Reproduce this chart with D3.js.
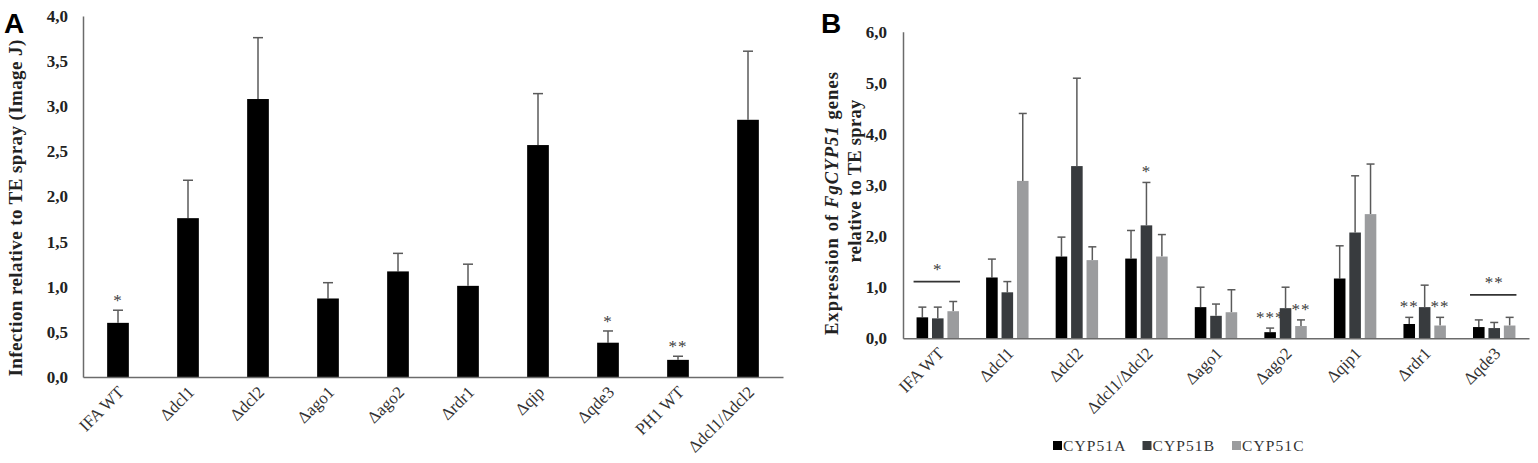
<!DOCTYPE html>
<html>
<head>
<meta charset="utf-8">
<script src="https://cdn.jsdelivr.net/npm/d3@7"></script>
<style>
  body { margin: 0; background: #fff; }
  svg { display: block; }
</style>
</head>
<body>
<div class="chart"></div>
<script>
// Panel A data
const catsA = ["IFA WT", "Δdcl1", "Δdcl2", "Δago1", "Δago2", "Δrdr1", "Δqip", "Δqde3", "PH1 WT", "Δdcl1/Δdcl2"];
const meanA = [0.60, 1.76, 3.08, 0.87, 1.17, 1.01, 2.57, 0.38, 0.19, 2.85];
const errA  = [0.14, 0.42, 0.68, 0.175, 0.20, 0.24, 0.57, 0.13, 0.04, 0.76];
const sigA  = ["*", "", "", "", "", "", "", "*", "**", ""];
const ticksA = [0, 0.5, 1, 1.5, 2, 2.5, 3, 3.5, 4];

// Panel B data
const catsB = ["IFA WT", "Δdcl1", "Δdcl2", "Δdcl1/Δdcl2", "Δago1", "Δago2", "Δqip1", "Δrdr1", "Δqde3"];
const seriesB = ["CYP51A", "CYP51B", "CYP51C"];
const cyp51A = [0.41, 1.19, 1.60, 1.56, 0.61, 0.12, 1.17, 0.28, 0.22];
const cyp51B = [0.39, 0.90, 3.37, 2.21, 0.44, 0.59, 2.07, 0.61, 0.20];
const cyp51C = [0.53, 3.08, 1.53, 1.60, 0.51, 0.24, 2.43, 0.25, 0.25];
const errCyp51A = [0.20, 0.36, 0.38, 0.55, 0.39, 0.08, 0.64, 0.13, 0.14];
const errCyp51B = [0.22, 0.21, 1.72, 0.84, 0.23, 0.41, 1.11, 0.43, 0.11];
const errCyp51C = [0.19, 1.32, 0.26, 0.43, 0.44, 0.12, 0.98, 0.16, 0.16];
const ticksB = [0, 1, 2, 3, 4, 5, 6];
const sigB = [
  { cat: "Δdcl1/Δdcl2", series: "CYP51B", label: "*" },
  { cat: "Δago2", series: "CYP51A", label: "***" },
  { cat: "Δago2", series: "CYP51C", label: "**" },
  { cat: "Δrdr1", series: "CYP51A", label: "**" },
  { cat: "Δrdr1", series: "CYP51C", label: "**" }
];
const groupSigB = [
  { cat: "IFA WT", level: 1.11, label: "*" },
  { cat: "Δqde3", level: 0.85, label: "**" }
];

const W = 1538, H = 463;
const serif = "'Liberation Serif', 'Times New Roman', serif";
const sans = "'Liberation Sans', Arial, sans-serif";
const axisColor = "#6b6b6b";
const errColor = "#5a5a5a";
const labelColor = "#333";
const starColor = "#3c3c3c";
const fmt = d => d.toFixed(1).replace(".", ",");

var svg = d3.select(".chart").append("svg")
    .attr("width", W)
    .attr("height", H);

// ---------- Panel A ----------
const xA = d3.scaleBand().domain(catsA).range([83, 783])
    .paddingInner(0.69).paddingOuter(0.345);
const yA = d3.scaleLinear().domain([0, 4]).range([377, 16]);

var gA = svg.append("g");

const dataA = catsA.map((c, i) => ({ cat: c, v: meanA[i], e: errA[i], sig: sigA[i] }));

// error bars (drawn first so bars cover the lower part)
gA.selectAll(".errA")
    .data(dataA)
    .join("g")
    .attr("class", "errA")
    .each(function(d) {
        const g = d3.select(this);
        const cx = xA(d.cat) + xA.bandwidth() / 2;
        g.append("line")
            .attr("x1", cx).attr("x2", cx)
            .attr("y1", yA(d.v)).attr("y2", yA(d.v + d.e))
            .attr("stroke", errColor).attr("stroke-width", 1.5);
        g.append("line")
            .attr("x1", cx - 5).attr("x2", cx + 5)
            .attr("y1", yA(d.v + d.e)).attr("y2", yA(d.v + d.e))
            .attr("stroke", errColor).attr("stroke-width", 1.5);
    });

gA.selectAll("rect")
    .data(dataA)
    .join("rect")
    .attr("x", d => xA(d.cat))
    .attr("y", d => yA(d.v))
    .attr("width", xA.bandwidth())
    .attr("height", d => yA(0) - yA(d.v))
    .attr("fill", "#000");

gA.selectAll(".sigA")
    .data(dataA.filter(d => d.sig))
    .join("text")
    .attr("class", "sigA")
    .attr("x", d => xA(d.cat) + xA.bandwidth() / 2)
    .attr("y", d => yA(d.v + d.e) - 4)
    .attr("text-anchor", "middle")
    .attr("font-family", serif)
    .attr("font-size", 17)
    .attr("letter-spacing", 1)
    .attr("fill", starColor)
    .text(d => d.sig);

// y axis A
var yAxisA = gA.append("g")
    .attr("transform", "translate(83,0)")
    .call(d3.axisLeft(yA).tickValues(ticksA).tickSize(0).tickPadding(15).tickFormat(fmt));
yAxisA.select(".domain").attr("stroke", axisColor).attr("stroke-width", 1.5);
yAxisA.selectAll("text")
    .attr("font-family", serif).attr("font-size", 17).attr("font-weight", "bold").attr("fill", "#222");

// x axis A
var xAxisA = gA.append("g")
    .attr("transform", "translate(0,377)")
    .call(d3.axisBottom(xA).tickSize(0).tickSizeOuter(0));
xAxisA.select(".domain").attr("stroke", axisColor).attr("stroke-width", 1.5);
xAxisA.selectAll("text")
    .attr("font-family", serif).attr("font-size", 17).attr("fill", labelColor)
    .attr("text-anchor", "end")
    .attr("transform", "translate(3,12) rotate(-45)")
    .attr("dy", "0.35em")
    .attr("y", 0);

gA.append("text")
    .attr("transform", "translate(22,208) rotate(-90)")
    .attr("text-anchor", "middle")
    .attr("font-family", serif).attr("font-size", 19).attr("font-weight", "bold").attr("fill", "#222")
    .attr("letter-spacing", 0.4)
    .text("Infection relative to TE spray (Image J)");

svg.append("text")
    .attr("x", 4).attr("y", 33)
    .attr("font-family", sans).attr("font-size", 28).attr("font-weight", "bold")
    .text("A");

// ---------- Panel B ----------
const x0B = d3.scaleBand().domain(catsB).range([903, 1529])
    .paddingInner(0.39).paddingOuter(0.195);
const x1B = d3.scaleBand().domain(seriesB).range([0, x0B.bandwidth()])
    .paddingInner(0.25).paddingOuter(0);
const yB = d3.scaleLinear().domain([0, 6]).range([338.3, 31.7]);
const colorB = d3.scaleOrdinal().domain(seriesB).range(["#000000", "#383b3e", "#9b9c9e"]);

const valuesB = { CYP51A: cyp51A, CYP51B: cyp51B, CYP51C: cyp51C };
const errsB = { CYP51A: errCyp51A, CYP51B: errCyp51B, CYP51C: errCyp51C };

const dataB = [];
catsB.forEach((c, i) => {
    seriesB.forEach(s => {
        dataB.push({ cat: c, series: s, v: valuesB[s][i], e: errsB[s][i] });
    });
});
const barX = d => x0B(d.cat) + x1B(d.series);
const barCx = d => barX(d) + x1B.bandwidth() / 2;

var gB = svg.append("g");

gB.selectAll(".errB")
    .data(dataB)
    .join("g")
    .attr("class", "errB")
    .each(function(d) {
        const g = d3.select(this);
        const cx = barCx(d);
        g.append("line")
            .attr("x1", cx).attr("x2", cx)
            .attr("y1", yB(d.v)).attr("y2", yB(d.v + d.e))
            .attr("stroke", errColor).attr("stroke-width", 1.5);
        g.append("line")
            .attr("x1", cx - 4).attr("x2", cx + 4)
            .attr("y1", yB(d.v + d.e)).attr("y2", yB(d.v + d.e))
            .attr("stroke", errColor).attr("stroke-width", 1.5);
    });

gB.selectAll("rect")
    .data(dataB)
    .join("rect")
    .attr("x", barX)
    .attr("y", d => yB(d.v))
    .attr("width", x1B.bandwidth())
    .attr("height", d => yB(0) - yB(d.v))
    .attr("fill", d => colorB(d.series));

// stars over single bars
gB.selectAll(".sigB")
    .data(sigB)
    .join("text")
    .attr("class", "sigB")
    .attr("x", d => x0B(d.cat) + x1B(d.series) + x1B.bandwidth() / 2)
    .attr("y", d => {
        const i = catsB.indexOf(d.cat);
        return yB(valuesB[d.series][i] + errsB[d.series][i]) - 5;
    })
    .attr("text-anchor", "middle")
    .attr("font-family", serif).attr("font-size", 17).attr("fill", starColor)
    .attr("letter-spacing", 1)
    .text(d => d.label);

// group significance lines
var grp = gB.selectAll(".grpSig")
    .data(groupSigB)
    .join("g")
    .attr("class", "grpSig");
grp.append("line")
    .attr("x1", d => x0B(d.cat) - 3)
    .attr("x2", d => x0B(d.cat) + x0B.bandwidth() + 1)
    .attr("y1", d => yB(d.level)).attr("y2", d => yB(d.level))
    .attr("stroke", "#333").attr("stroke-width", 1.8);
grp.append("text")
    .attr("x", d => x0B(d.cat) + x0B.bandwidth() / 2)
    .attr("y", d => yB(d.level) - 7)
    .attr("text-anchor", "middle")
    .attr("font-family", serif).attr("font-size", 17).attr("fill", starColor)
    .attr("letter-spacing", 1)
    .text(d => d.label);

var yAxisB = gB.append("g")
    .attr("transform", "translate(903,0)")
    .call(d3.axisLeft(yB).tickValues(ticksB).tickSize(0).tickPadding(16).tickFormat(fmt));
yAxisB.select(".domain").attr("stroke", axisColor).attr("stroke-width", 1.5);
yAxisB.selectAll("text")
    .attr("font-family", serif).attr("font-size", 17).attr("font-weight", "bold").attr("fill", "#222");

var xAxisB = gB.append("g")
    .attr("transform", "translate(0,338.3)")
    .call(d3.axisBottom(x0B).tickSize(0).tickSizeOuter(0));
xAxisB.select(".domain").attr("stroke", axisColor).attr("stroke-width", 1.5);
xAxisB.selectAll("text")
    .attr("font-family", serif).attr("font-size", 17).attr("fill", labelColor)
    .attr("text-anchor", "end")
    .attr("transform", "translate(3,12) rotate(-45)")
    .attr("dy", "0.35em")
    .attr("y", 0);

// y title B (two lines, FgCYP51 in italics)
var t1 = gB.append("text")
    .attr("transform", "translate(838,203) rotate(-90)")
    .attr("text-anchor", "middle")
    .attr("font-family", serif).attr("font-size", 18.5).attr("font-weight", "bold").attr("fill", "#222")
    .attr("letter-spacing", 1.1);
t1.append("tspan").text("Expression of ");
t1.append("tspan").attr("font-style", "italic").text("FgCYP51");
t1.append("tspan").text(" genes");
gB.append("text")
    .attr("transform", "translate(861,181) rotate(-90)")
    .attr("text-anchor", "middle")
    .attr("font-family", serif).attr("font-size", 18.5).attr("font-weight", "bold").attr("fill", "#222")
    .attr("letter-spacing", 0.3)
    .text("relative to TE spray");

svg.append("text")
    .attr("x", 821).attr("y", 33)
    .attr("font-family", sans).attr("font-size", 28).attr("font-weight", "bold")
    .text("B");

// legend
var legend = gB.selectAll(".legend")
    .data(seriesB)
    .join("g")
    .attr("class", "legend")
    .attr("transform", (d, i) => `translate(${1053 + i * 89.5},446)`);
legend.append("rect")
    .attr("x", 0).attr("y", -5)
    .attr("width", 9).attr("height", 9)
    .attr("fill", d => colorB(d));
legend.append("text")
    .attr("x", 10).attr("y", 0)
    .attr("dy", "0.35em")
    .attr("font-family", serif).attr("font-size", 15.5).attr("fill", "#333")
    .attr("letter-spacing", 1.1)
    .text(d => d);
</script>
</body>
</html>
